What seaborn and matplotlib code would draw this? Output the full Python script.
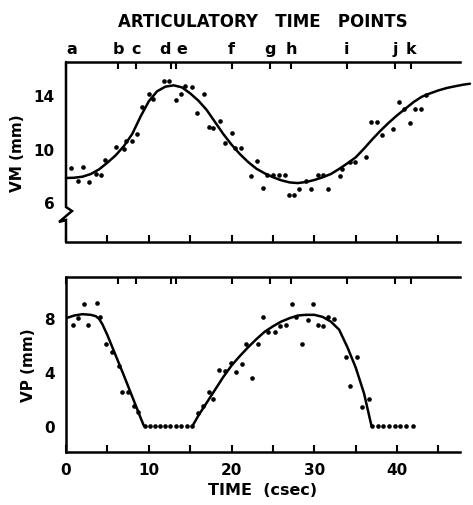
import numpy as np
import pandas as pd
import matplotlib
matplotlib.use("Agg")
import matplotlib.pyplot as plt
import seaborn as sns

# ---------------- data ----------------
# articulatory time points (csec)
art_labels = ["a", "b", "c", "d", "e", "f", "g", "h", "i", "j", "k"]
art_times = [0.0, 6.3, 8.5, 12.7, 13.3, 20.0, 24.6, 27.2, 33.9, 39.8, 41.65]

# VM measured points
vm_t = [0.65, 1.5, 2.1, 2.75, 3.6, 4.25, 4.7, 6.1, 6.95, 7.3, 8.0, 8.6, 9.2, 10.0,
        10.55, 11.8, 12.5, 13.3, 13.85, 14.4, 15.2, 15.8, 16.7, 17.25, 17.8, 18.6,
        19.2, 20.0, 20.45, 21.2, 22.3, 23.05, 23.8, 24.25, 25.0, 25.7, 26.5, 26.9,
        27.6, 28.2, 29.0, 29.6, 30.4, 31.1, 31.65, 33.1, 33.4, 34.3, 34.9, 36.3,
        36.8, 37.6, 38.2, 39.5, 40.2, 40.8, 41.5, 42.2, 42.9, 43.5]
vm_v = [8.55, 7.6, 8.6, 7.5, 8.1, 8.0, 9.15, 10.1, 9.97, 10.6, 10.6, 11.1, 13.13, 14.13,
        13.72, 15.07, 15.07, 13.65, 14.07, 14.7, 14.6, 12.66, 14.13, 11.6, 11.52, 12.1,
        10.45, 11.16, 10.07, 10.05, 7.98, 9.05, 7.06, 8.0, 8.0, 8.0, 8.0, 6.54,
        6.54, 7.0, 7.56, 7.0, 8.0, 8.0, 7.0, 7.96, 8.45, 8.97, 8.97, 9.37,
        11.98, 12.0, 11.0, 11.5, 13.5, 13.0, 11.9, 13.0, 13.0, 14.05]

# VM fitted curve
vm_fit_t = [0, 1, 2, 3, 4, 5, 6, 7, 8, 9, 10, 11, 12, 13, 14, 15, 16, 17, 18, 19, 20,
            21, 22, 23, 24, 25, 26, 27, 28, 29, 30, 31, 32, 33, 34, 35, 36, 37, 38,
            39, 40, 41, 42, 43, 44, 45, 46, 47, 48, 48.8]
vm_fit_v = [7.8, 7.82, 7.9, 8.1, 8.45, 8.95, 9.5, 10.2, 11.1, 12.4, 13.55, 14.3, 14.65,
            14.75, 14.6, 14.15, 13.6, 12.9, 12.0, 11.1, 10.3, 9.6, 9.0, 8.5, 8.15, 7.86,
            7.63, 7.47, 7.42, 7.5, 7.65, 7.85, 8.1, 8.48, 8.9, 9.35, 10.0, 10.7, 11.35,
            11.95, 12.5, 13.0, 13.5, 13.9, 14.15, 14.37, 14.55, 14.68, 14.8, 14.87]

# VP measured points
vp_t = [0.8, 1.5, 2.15, 2.7, 3.7, 4.1, 4.8, 5.6, 6.4, 6.75, 7.5, 8.2, 8.7,
        9.6, 10.2, 10.8, 11.4, 12.0, 12.6, 13.3, 13.9, 14.6, 15.2,
        15.9, 16.6, 17.3, 17.8, 18.5, 19.2, 19.9, 20.5, 21.3, 21.8, 22.5, 23.25,
        23.8, 24.4, 25.3, 25.9, 26.6, 27.3, 27.8, 28.5, 29.2, 29.9, 30.5, 31.1,
        31.7, 32.4, 33.8, 34.35, 35.2, 35.7, 36.6,
        37.0, 37.7, 38.3, 39.0, 39.7, 40.4, 41.1, 41.9]
vp_v = [7.48, 7.98, 9.0, 7.48, 9.09, 8.03, 6.05, 5.48, 4.44, 2.52, 2.52, 1.48, 1.04,
        0, 0, 0, 0, 0, 0, 0, 0, 0, 0,
        0.94, 1.48, 2.47, 1.98, 4.1, 4.07, 4.6, 4.0, 4.57, 6.07, 3.53, 6.07,
        8.03, 6.96, 6.96, 7.41, 7.46, 9.0, 8.03, 6.07, 7.85, 9.0, 7.46, 7.36,
        8.03, 7.9, 5.07, 2.96, 5.07, 1.41, 1.98,
        0, 0, 0, 0, 0, 0, 0, 0]

# VP fitted curve (two segments)
vp_fit1_t = [0, 0.5, 1, 2, 3, 3.6, 4, 4.4, 5, 6, 7, 8, 9, 9.4]
vp_fit1_v = [7.95, 8.05, 8.15, 8.25, 8.2, 8.1, 7.9, 7.5, 6.7, 5.2, 3.7, 2.15, 0.6, 0.0]
vp_fit2_t = [15.3, 16, 17, 18, 19, 20, 21, 22, 23, 24, 25, 26, 27, 28, 29, 30, 31,
             32, 33, 34, 35, 36, 36.9]
vp_fit2_v = [0.0, 0.75, 1.7, 2.65, 3.6, 4.45, 5.15, 5.8, 6.4, 6.95, 7.35, 7.7, 7.95,
             8.15, 8.2, 8.2, 8.05, 7.7, 7.1, 5.8, 4.3, 2.4, 0.0]

# ---------------- style ----------------
sns.set_theme(style="white")
plt.rcParams["font.family"] = ["DejaVu Sans"]
plt.rcParams["font.weight"] = "bold"
plt.rcParams["axes.labelweight"] = "bold"
plt.rcParams["text.color"] = "black"
plt.rcParams["axes.labelcolor"] = "black"
plt.rcParams["xtick.color"] = "black"
plt.rcParams["ytick.color"] = "black"

FS = 11
LW_SP = 1.8
BLACK = "black"

fig = plt.figure(figsize=(4.73, 5.06), dpi=100)
fig.patch.set_facecolor("white")

W, H = 473.0, 506.0
def axrect(l, r, t, b):
    return [l / W, 1 - b / H, (r - l) / W, (b - t) / H]

ax1 = fig.add_axes(axrect(66, 460, 63, 243))
ax2 = fig.add_axes(axrect(66, 460, 278, 453))

XMAX = 47.6

def style_axes(ax):
    ax.set_facecolor("white")
    for s in ["top", "bottom", "left"]:
        ax.spines[s].set_visible(True)
        ax.spines[s].set_color(BLACK)
        ax.spines[s].set_linewidth(LW_SP)
    ax.spines["right"].set_visible(False)
    ax.tick_params(axis="both", direction="in", length=5, width=1.5, color=BLACK,
                   labelsize=FS, labelcolor=BLACK)
    ax.tick_params(axis="y", pad=8)
    ax.tick_params(axis="x", pad=7)
    ax.set_xlim(0, XMAX)
    ax.set_xticks(np.arange(0, 46, 5))
    ax.grid(False)

# ---- top panel: VM ----
df_vm = pd.DataFrame({"t": vm_t, "v": vm_v})
df_vmfit = pd.DataFrame({"t": vm_fit_t, "v": vm_fit_v})
sns.scatterplot(data=df_vm, x="t", y="v", ax=ax1, color=BLACK, s=11, linewidth=0,
                zorder=3)
sns.lineplot(data=df_vmfit, x="t", y="v", ax=ax1, color=BLACK, lw=1.8, sort=False,
             estimator=None, zorder=3)
for ln in ax1.lines:
    ln.set_clip_on(False)
style_axes(ax1)
ax1.set_ylim(3.0, 16.5)
ax1.set_yticks([6, 8, 10, 12, 14, 16])
ax1.set_yticklabels(["6", "", "10", "", "14", ""])
ax1.set_xticklabels([])
ax1.set_xlabel("")
ax1.set_ylabel("VM (mm)", fontsize=FS, fontweight="bold", labelpad=6, color=BLACK)

# axis break on the left spine
ax1.spines["left"].set_visible(False)
bx = [(p - 66) / 394.0 for p in [66, 66, 72, 59, 66, 66]]
by = [(243 - p) / 180.0 for p in [63, 208, 212, 223, 221, 243]]
ax1.plot(bx, by, transform=ax1.transAxes, color=BLACK, lw=LW_SP, clip_on=False,
         solid_joinstyle="miter")

# articulatory time points on top
tw1 = ax1.twiny()
tw1.set_xlim(0, XMAX)
tw1.set_xticks(art_times)
tw1.set_xticklabels(art_labels)
tw1.tick_params(axis="x", direction="in", length=5, width=1.5, labelsize=FS + 0.5,
                pad=4, colors=BLACK)
lbls = tw1.get_xticklabels()
lbls[0].set_ha("left")
lbls[3].set_ha("right")
lbls[4].set_ha("left")
for s in tw1.spines.values():
    s.set_visible(False)
tw1.set_xlabel("ARTICULATORY   TIME   POINTS", fontsize=12, fontweight="bold",
               labelpad=11, color=BLACK)
tw1.grid(False)

# ---- bottom panel: VP ----
df_vp = pd.DataFrame({"t": vp_t, "v": vp_v})
df_f1 = pd.DataFrame({"t": vp_fit1_t, "v": vp_fit1_v})
df_f2 = pd.DataFrame({"t": vp_fit2_t, "v": vp_fit2_v})
sns.scatterplot(data=df_vp, x="t", y="v", ax=ax2, color=BLACK, s=11, linewidth=0,
                zorder=3)
sns.lineplot(data=df_f1, x="t", y="v", ax=ax2, color=BLACK, lw=1.8, sort=False,
             estimator=None, zorder=3)
sns.lineplot(data=df_f2, x="t", y="v", ax=ax2, color=BLACK, lw=1.8, sort=False,
             estimator=None, zorder=3)
style_axes(ax2)
ax2.set_ylim(-1.95, 11.0)
ax2.set_yticks([0, 2, 4, 6, 8, 10])
ax2.set_yticklabels(["0", "", "4", "", "8", ""])
ax2.set_xticklabels(["0", "", "10", "", "20", "", "30", "", "40", ""])
ax2.set_ylabel("VP (mm)", fontsize=FS, fontweight="bold", labelpad=6, color=BLACK)
ax2.set_xlabel("TIME  (csec)", fontsize=FS + 0.5, fontweight="bold", labelpad=4,
               color=BLACK)

tw2 = ax2.twiny()
tw2.set_xlim(0, XMAX)
tw2.set_xticks(art_times)
tw2.set_xticklabels([])
tw2.tick_params(axis="x", direction="in", length=5, width=1.5, colors=BLACK)
for s in tw2.spines.values():
    s.set_visible(False)
tw2.grid(False)

fig.savefig("out.png", dpi=100, facecolor="white")
